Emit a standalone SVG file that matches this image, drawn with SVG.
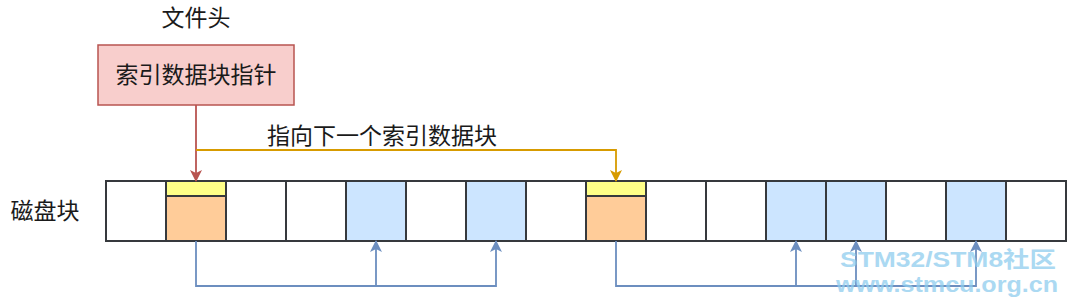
<svg xmlns="http://www.w3.org/2000/svg" width="1068" height="302" viewBox="0 0 1068 302">
<style>
.t{font-family:"Noto Sans CJK SC","Noto Sans",sans-serif;font-size:23px;fill:#1a1a1a}
.c{stroke:#36393d;stroke-width:2}
.w{fill:#ffffff}
.b{fill:#cce5ff}
.y{fill:#ffff88}
.o{fill:#ffcc99}
.wm{font-family:"Liberation Sans","Noto Sans CJK SC",sans-serif;font-weight:bold;fill:#8fcdee;opacity:0.75}
</style>
<defs>
<marker id="ar" viewBox="0 0 12 12" refX="11" refY="6" markerWidth="12" markerHeight="12" orient="auto" markerUnits="userSpaceOnUse">
<path d="M0,0 L12,6 L0,12 L3,6 Z" fill="#b85450"/>
</marker>
<marker id="ao" viewBox="0 0 12 12" refX="11" refY="6" markerWidth="12" markerHeight="12" orient="auto" markerUnits="userSpaceOnUse">
<path d="M0,0 L12,6 L0,12 L3,6 Z" fill="#d79b00"/>
</marker>
<marker id="ab" viewBox="0 0 12 12" refX="11" refY="6" markerWidth="12" markerHeight="12" orient="auto" markerUnits="userSpaceOnUse">
<path d="M0,0 L12,6 L0,12 L3,6 Z" fill="#6c8ebf"/>
</marker>
</defs>
<g id="label-header"><text class="t" x="196" y="26" text-anchor="middle">文件头</text></g>
<g id="header-box">
<rect x="98" y="45" width="196" height="60" fill="#f8cecc" stroke="#b85450" stroke-width="1.5"/>
<text class="t" x="196" y="83" text-anchor="middle">索引数据块指针</text>
</g>
<g id="label-next"><text class="t" x="382" y="144" text-anchor="middle">指向下一个索引数据块</text></g>
<g id="label-disk"><text class="t" x="45" y="219" text-anchor="middle">磁盘块</text></g>
<g id="disk">
<rect class="c w" x="106" y="181" width="60" height="60"/>
<rect class="c o" x="166" y="196" width="60" height="45"/>
<rect class="c y" x="166" y="181" width="60" height="15"/>
<rect class="c w" x="226" y="181" width="60" height="60"/>
<rect class="c w" x="286" y="181" width="60" height="60"/>
<rect class="c b" x="346" y="181" width="60" height="60"/>
<rect class="c w" x="406" y="181" width="60" height="60"/>
<rect class="c b" x="466" y="181" width="60" height="60"/>
<rect class="c w" x="526" y="181" width="60" height="60"/>
<rect class="c o" x="586" y="196" width="60" height="45"/>
<rect class="c y" x="586" y="181" width="60" height="15"/>
<rect class="c w" x="646" y="181" width="60" height="60"/>
<rect class="c w" x="706" y="181" width="60" height="60"/>
<rect class="c b" x="766" y="181" width="60" height="60"/>
<rect class="c b" x="826" y="181" width="60" height="60"/>
<rect class="c w" x="886" y="181" width="60" height="60"/>
<rect class="c b" x="946" y="181" width="60" height="60"/>
<rect class="c w" x="1006" y="181" width="60" height="60"/>
</g>
<g id="connectors" fill="none" stroke-width="1.8">
<path d="M196,105 V181" stroke="#b85450" marker-end="url(#ar)"/>
<path d="M196,150 H616 V181" stroke="#d79b00" marker-end="url(#ao)"/>
<path d="M196,241 V286 H376 V241" stroke="#6c8ebf" marker-end="url(#ab)"/>
<path d="M376,286 H496 V241" stroke="#6c8ebf" marker-end="url(#ab)"/>
<path d="M616,241 V286 H796 V241" stroke="#6c8ebf" marker-end="url(#ab)"/>
<path d="M796,286 H856 V241" stroke="#6c8ebf" marker-end="url(#ab)"/>
<path d="M856,286 H976 V241" stroke="#6c8ebf" marker-end="url(#ab)"/>
</g>
<g id="watermark">
<text class="wm" x="1056" y="267" font-size="22" text-anchor="end" textLength="216" lengthAdjust="spacingAndGlyphs">STM32/STM8社区</text>
<text class="wm" x="1058" y="292" font-size="22" text-anchor="end" textLength="222" lengthAdjust="spacingAndGlyphs">www.stmcu.org.cn</text>
</g>
</svg>
